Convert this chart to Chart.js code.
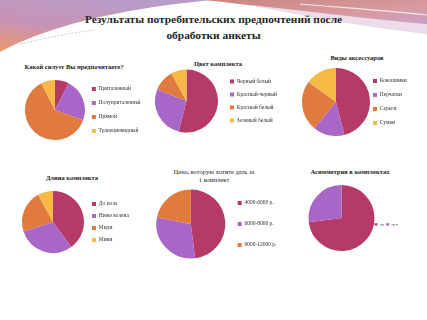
<!DOCTYPE html>
<html lang="ru">
<head>
    <meta charset="UTF-8">
    <title>Результаты потребительских предпочтений</title>
    <script src="https://cdn.jsdelivr.net/npm/chart.js@4.4.0/dist/chart.umd.min.js"></script>
    <style>
        html, body { margin: 0; padding: 0; }
        body {
            width: 427px;
            height: 320px;
            position: relative;
            overflow: hidden;
            background: #ffffff;
            font-family: "Liberation Serif", "DejaVu Serif", serif;
        }
        #decor { position: absolute; left: 0; top: 0; }
        .main-title {
            position: absolute;
            left: 0;
            width: 427px;
            text-align: center;
            font-size: 11.4px;
            font-weight: bold;
            color: #262626;
            line-height: 15px;
        }
        .chart-title {
            position: absolute;
            transform: translate(-50%, -50%);
            white-space: nowrap;
            text-align: center;
            font-size: 6.5px;
            font-weight: bold;
            color: #222;
            line-height: 8px;
        }
        canvas { position: absolute; }
    </style>
</head>
<body>
    <svg id="decor" width="427" height="60" viewBox="0 0 427 60">
        <defs>
            <linearGradient id="gLeft" x1="0.6" y1="0" x2="0" y2="1">
                <stop offset="0" stop-color="#b79cc9"/>
                <stop offset="0.55" stop-color="#c893b4"/>
                <stop offset="1" stop-color="#ec9866"/>
            </linearGradient>
            <linearGradient id="gRight" x1="0" y1="0" x2="1" y2="1">
                <stop offset="0" stop-color="#c98680"/>
                <stop offset="0.6" stop-color="#d89aa0"/>
                <stop offset="1" stop-color="#c9a0c8"/>
            </linearGradient>
        </defs>
        <path d="M0,0 L212,0 C170,4 110,12 62,27 C36,35 16,43 0,52 Z" fill="url(#gLeft)"/>
        <path d="M205,0 L427,0 L427,25 C370,20 290,10 205,0 Z" fill="url(#gRight)"/>
        <path d="M250,5 C330,14 390,21 427,24 L427,34 C380,29 310,18 250,5 Z" fill="#ecdcea"/>
        <path d="M300,4 C360,9 400,12 427,15" stroke="#f4e6ea" stroke-width="1.2" fill="none"/>
        <path d="M20,44 C45,38 70,33 95,30" stroke="#a9a9a9" stroke-width="0.6" stroke-dasharray="2,1.5" fill="none"/>
    </svg>

    <div class="main-title" style="top:12px;">Результаты потребительских предпочтений после</div>
    <div class="main-title" style="top:28px;">обработки анкеты</div>

    <div class="chart-title" style="left:74px; top:67px;">Какой силуэт Вы предпочитаете?</div>
    <div class="chart-title" style="left:218px; top:64px;">Цвет комплекта</div>
    <div class="chart-title" style="left:357px; top:58px;">Виды аксессуаров</div>
    <div class="chart-title" style="left:72px; top:178px;">Длина комплекта</div>
    <div class="chart-title" style="left:214px; top:176px; font-weight:normal;">Цена, которую хотите дать за<br>1 комплект</div>
    <div class="chart-title" style="left:350px; top:172px;">Асимметрия в комплектах</div>

    <canvas id="c1"></canvas>
    <canvas id="c2"></canvas>
    <canvas id="c3"></canvas>
    <canvas id="c4"></canvas>
    <canvas id="c5"></canvas>
    <canvas id="c6"></canvas>

    <script>
        // survey answers, percent of respondents
        const silhouetteLabels = ["Приталенный", "Полуприталенный", "Прямой", "Трапециевидный"];
        const silhouetteValues = [7.5, 23, 62, 7.5];

        const colorLabels = ["Черный белый", "Красный-черный", "Красный белый", "Зеленый белый"];
        const colorValues = [54, 27, 11, 8];

        const accessoryLabels = ["Кокошники", "Перчатки", "Серьги", "Сумки"];
        const accessoryValues = [46, 15, 24, 15];

        const lengthLabels = ["До пола", "Ниже колена", "Миди", "Мини"];
        const lengthValues = [40, 30, 22, 8];

        const priceLabels = ["4000-6000 р.", "6000-8000 р.", "9000-12000 р."];
        const priceValues = [48, 30, 22];

        const asymmetryLabels = ["да", "нет"];
        const asymmetryValues = [73, 27];

        const palette = ["#b63a68", "#a867c6", "#e07a3e", "#f6b945"];

        const legendFont = { family: "Liberation Serif", size: 5.5 };
        const legendBox = 4;

        // canvas box [left, top, w, h], left padding, page x of legend squares
        const panels = [
            { id: "c1", labels: silhouetteLabels, values: silhouetteValues,
              box: [15, 72, 130, 76], padLeft: 11.5, legendX: 80, radius: 30, gap: 8.5 },
            { id: "c2", labels: colorLabels, values: colorValues,
              box: [150, 63, 142, 76], padLeft: 0.5, legendX: 230, radius: 31.5, gap: 7.5 },
            { id: "c3", labels: accessoryLabels, values: accessoryValues,
              box: [298, 63, 129, 78], padLeft: 9.5, legendX: 373, radius: 34, gap: 8.5 },
            { id: "c4", labels: lengthLabels, values: lengthValues,
              box: [15, 186, 130, 72], padLeft: 5.5, legendX: 92, radius: 31, gap: 6.5 },
            { id: "c5", labels: priceLabels, values: priceValues,
              box: [150, 182, 132, 84], padLeft: 9.5, legendX: 236, radius: 34.5, gap: 15.5 }
        ];

        // widest legend item the way Chart.js measures it
        const measureCtx = document.createElement("canvas").getContext("2d");
        function widestItem(labels) {
            measureCtx.font = legendFont.size + "px " + legendFont.family;
            let w = 0;
            labels.forEach(t => { w = Math.max(w, measureCtx.measureText(t).width); });
            return legendBox + legendFont.size / 2 + w;
        }

        function makePie(canvas, labels, values, radius, layoutPad, legendOpts) {
            return new Chart(canvas, {
                type: "pie",
                data: {
                    labels: labels,
                    datasets: [{
                        data: values,
                        backgroundColor: palette.slice(0, values.length),
                        borderWidth: 0,
                        radius: radius,
                        clip: false
                    }]
                },
                options: {
                    responsive: false,
                    animation: false,
                    layout: { padding: layoutPad },
                    plugins: {
                        tooltip: { enabled: false },
                        legend: legendOpts
                    }
                }
            });
        }

        function placeCanvas(id, box) {
            const el = document.getElementById(id);
            el.width = box[2];
            el.height = box[3];
            el.style.left = box[0] + "px";
            el.style.top = box[1] + "px";
            return el;
        }

        panels.forEach(p => {
            const el = placeCanvas(p.id, p.box);
            const canvasRight = p.box[0] + p.box[2];
            const padRight = canvasRight - p.legendX - widestItem(p.labels) - 10;
            makePie(el, p.labels, p.values, p.radius,
                { left: p.padLeft, right: padRight, top: 0, bottom: 0 },
                {
                    position: "right",
                    align: "center",
                    labels: {
                        boxWidth: legendBox,
                        boxHeight: legendBox,
                        padding: p.gap,
                        color: "#333",
                        font: legendFont
                    }
                });
        });

        // asymmetry chart: legend items side by side
        const c6 = placeCanvas("c6", [283, 180, 144, 72]);
        makePie(c6, asymmetryLabels, asymmetryValues, 33,
            { left: -5, right: 27, top: 35.5, bottom: 26.5 },
            {
                position: "bottom",
                align: "end",
                labels: {
                    boxWidth: 3,
                    boxHeight: 3,
                    padding: 2,
                    color: "#333",
                    font: { family: "Liberation Serif", size: 4.6 }
                }
            });
    </script>
</body>
</html>
